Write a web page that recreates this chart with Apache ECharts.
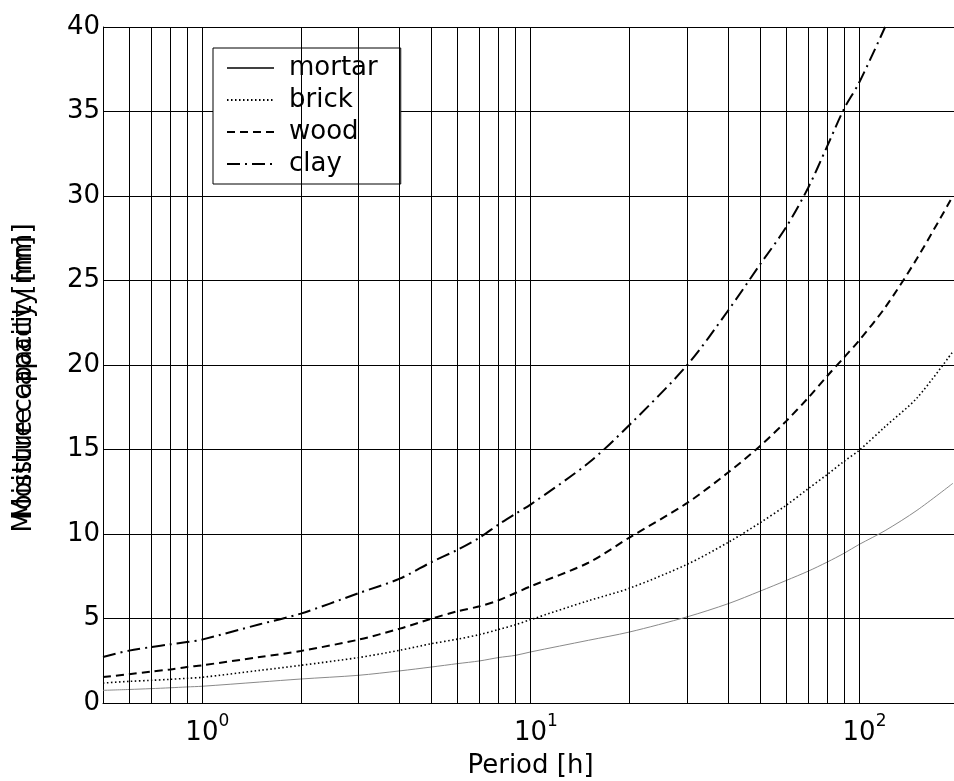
<!DOCTYPE html>
<html>
<head>
<meta charset="utf-8">
<script src="https://cdn.jsdelivr.net/npm/echarts@6/dist/echarts.min.js"></script>
<style>
  html, body { margin: 0; padding: 0; background: #fff; }
  #chart { width: 954px; height: 781px; }
</style>
</head>
<body>
<div id="chart"></div>
<script>
// Periods [h] at which the moisture capacity was evaluated
const periods = [0.5, 0.6, 0.7, 0.8, 0.9, 1, 1.5, 2, 3, 4, 5, 6, 7, 8, 9, 10,
                 15, 20, 30, 40, 50, 60, 70, 80, 90, 100, 120, 150, 193];

// Moisture capacity [mm] per material
const mortar = [0.75, 0.8, 0.85, 0.9, 0.95, 0.99, 1.24, 1.42, 1.64, 1.9, 2.13, 2.33, 2.49, 2.69, 2.82, 3.02,
                3.71, 4.2, 5.1, 5.88, 6.62, 7.25, 7.8, 8.34, 8.86, 9.38, 10.2, 11.4, 13.0];
const brick  = [1.18, 1.28, 1.34, 1.40, 1.46, 1.52, 1.93, 2.23, 2.69, 3.12, 3.51, 3.78, 4.05, 4.35, 4.63, 4.93,
                6.05, 6.79, 8.21, 9.51, 10.67, 11.7, 12.68, 13.52, 14.3, 14.95, 16.35, 18.05, 20.8];
const wood   = [1.54, 1.70, 1.86, 1.98, 2.13, 2.23, 2.72, 3.08, 3.75, 4.4, 4.99, 5.43, 5.72, 6.08, 6.51, 6.9,
                8.3, 9.79, 11.84, 13.65, 15.21, 16.68, 18.06, 19.35, 20.45, 21.45, 23.4, 26.3, 30.0];
const clay   = [2.72, 3.1, 3.31, 3.47, 3.61, 3.75, 4.66, 5.29, 6.5, 7.36, 8.34, 9.07, 9.79, 10.57, 11.2, 11.74,
                14.2, 16.45, 20.0, 23.24, 25.96, 28.16, 30.49, 32.95, 35.16, 36.7, 40.0, null, null];

// Vertical grid positions on the logarithmic period axis
const periodGrid = [0.6, 0.7, 0.8, 0.9, 1, 2, 3, 4, 5, 6, 7, 8, 9, 10,
                    20, 30, 40, 50, 60, 70, 80, 90, 100];

const FONT = 'DejaVu Sans';
const pairs = vals => periods.map((p, i) => [p, vals[i]]);

const chart = echarts.init(document.getElementById('chart'), null, { renderer: 'canvas' });

chart.setOption({
  animation: false,
  backgroundColor: '#fff',
  grid: { left: 103, top: 27, width: 855, height: 676, containLabel: false, outerBoundsMode: 'none' },
  xAxis: {
    type: 'log',
    logBase: 10,
    min: 0.5,
    max: 200,
    name: 'Period [h]',
    nameLocation: 'middle',
    nameGap: 50,
    nameTextStyle: { fontFamily: FONT, fontSize: 26, color: '#000' },
    axisLine: { show: true, onZero: false, lineStyle: { color: '#000', width: 1 } },
    axisTick: { show: false },
    splitLine: { show: false },
    axisLabel: {
      margin: 16,
      color: '#000',
      showMinLabel: false,
      showMaxLabel: false,
      // power-of-ten labels: exponent on a raised first line, mantissa below
      formatter: function (v) {
        const e = Math.log10(v);
        const r = Math.round(e);
        if (Math.abs(e - r) > 1e-6) return '';
        return '{sp| }{s|' + r + '}\n{b|10}{sp2| }';
      },
      rich: {
        sp:  { width: 44, lineHeight: 6, fontSize: 17 },
        s:   { fontFamily: FONT, fontSize: 17, lineHeight: 6, color: '#000' },
        b:   { fontFamily: FONT, fontSize: 26, lineHeight: 16, color: '#000', padding: [0, 0, 0, 11] },
        sp2: { width: 11, lineHeight: 16, fontSize: 26 }
      }
    }
  },
  yAxis: {
    type: 'value',
    min: 0,
    max: 40,
    interval: 5,
    axisLine: { show: true, lineStyle: { color: '#000', width: 1 } },
    axisTick: { show: false },
    splitLine: { show: true, lineStyle: { color: '#000', width: 1 } },
    axisLabel: { fontFamily: FONT, fontSize: 26, color: '#000', margin: 3 }
  },
  legend: {
    left: 213,
    top: 48,
    orient: 'vertical',
    backgroundColor: '#fff',
    borderColor: '#000',
    borderWidth: 1,
    borderRadius: 0,
    padding: [4, 23, 4, 13],
    itemGap: 0,
    itemWidth: 47,
    itemHeight: 14,
    selectedMode: false,
    itemStyle: { color: 'transparent', borderWidth: 0, opacity: 0 },
    textStyle: { fontFamily: FONT, fontSize: 26, color: '#000', lineHeight: 32, padding: [0, 0, 0, 10] },
    data: [
      { name: 'mortar', lineStyle: { color: '#000', width: 1.5, opacity: 1 } },
      { name: 'brick' },
      { name: 'wood' },
      { name: 'clay' }
    ]
  },
  graphic: [
    {
      type: 'text', x: 24, y: 378, rotation: Math.PI / 2, silent: true,
      style: { text: 'Moisture capacity [mm]', font: '26px "DejaVu Sans"', fill: '#000',
               align: 'center', verticalAlign: 'middle' }
    },
    {
      type: 'text', x: 24, y: 378, rotation: Math.PI / 2, silent: true,
      style: { text: 'Moisture capacity [m]', font: '26px "DejaVu Sans"', fill: '#000',
               align: 'center', verticalAlign: 'middle' }
    }
  ],
  series: [
    {
      name: 'grid',
      type: 'line',
      data: [],
      silent: true,
      z: 1,
      markLine: {
        silent: true,
        animation: false,
        symbol: ['none', 'none'],
        label: { show: false },
        emphasis: { disabled: true },
        lineStyle: { color: '#000', width: 1, type: 'solid' },
        data: periodGrid.map(v => ({ xAxis: v }))
      }
    },
    {
      name: 'mortar', type: 'line', data: pairs(mortar), symbol: 'none', smooth: 0.3, z: 3,
      lineStyle: { color: '#8a8a8a', width: 1, type: 'solid' }, itemStyle: { color: '#000' }
    },
    {
      name: 'brick', type: 'line', data: pairs(brick), symbol: 'none', smooth: 0.3, z: 3,
      lineStyle: { color: '#000', width: 1.6, type: [1.5, 2.5] }, itemStyle: { color: '#000' }
    },
    {
      name: 'wood', type: 'line', data: pairs(wood), symbol: 'none', smooth: 0.3, z: 3,
      lineStyle: { color: '#000', width: 2, type: [8, 5] }, itemStyle: { color: '#000' }
    },
    {
      name: 'clay', type: 'line', data: pairs(clay), symbol: 'none', smooth: 0.3, z: 3, connectNulls: false,
      lineStyle: { color: '#000', width: 2, type: [13, 5, 2, 5] }, itemStyle: { color: '#000' }
    }
  ]
});
</script>
</body>
</html>
